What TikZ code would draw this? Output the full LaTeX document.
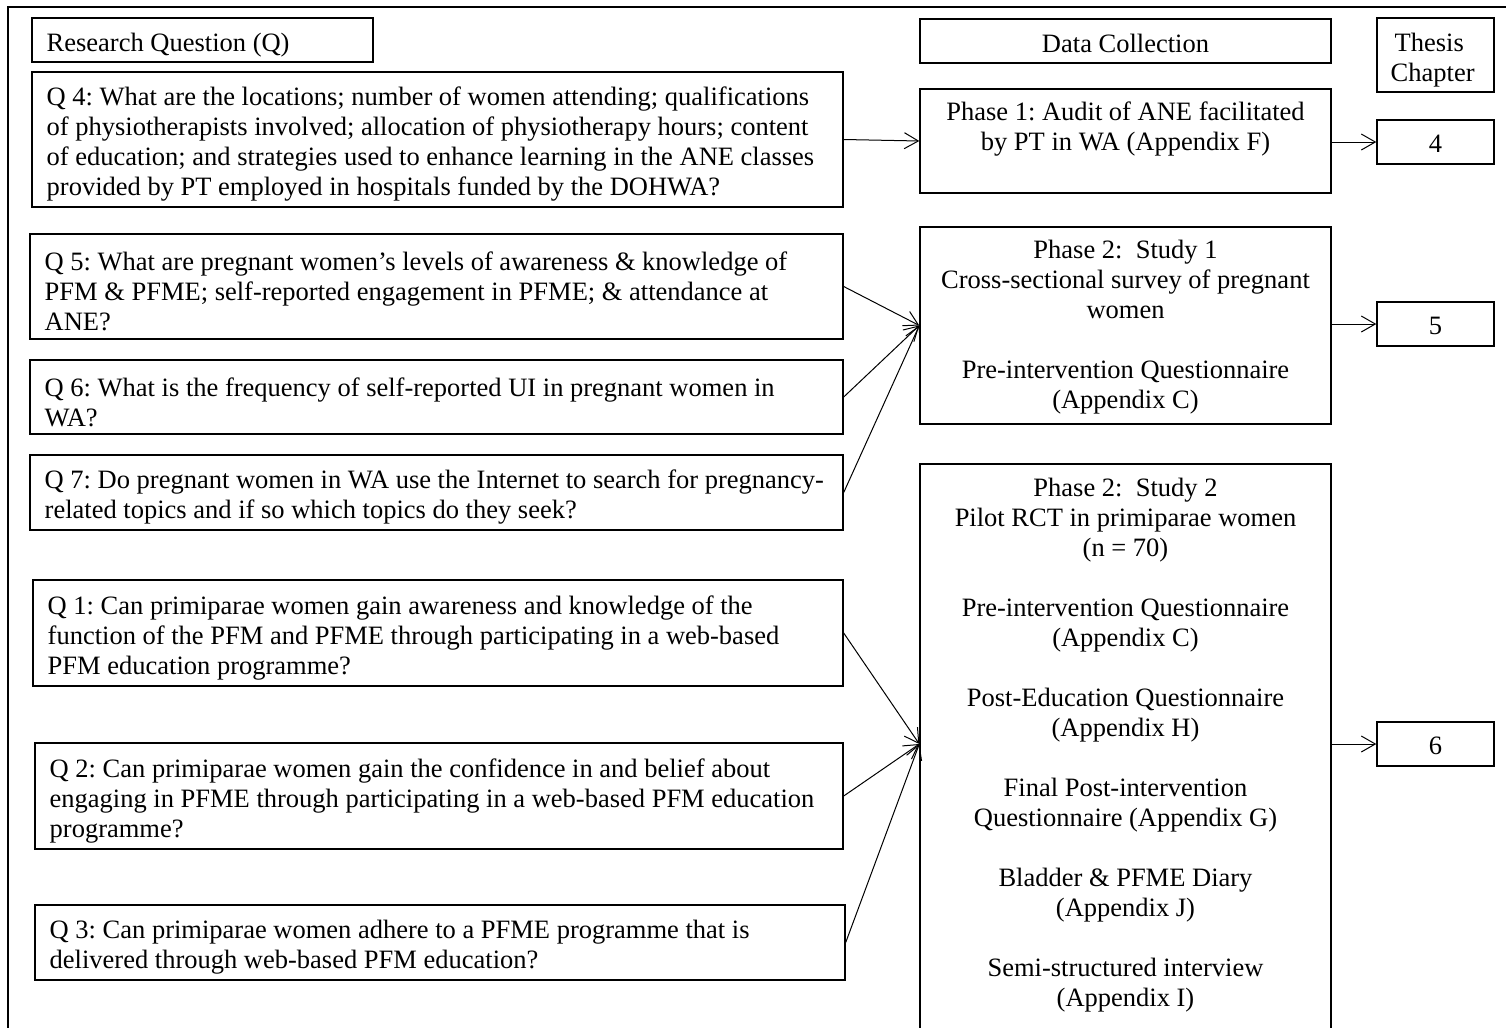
\documentclass[tikz,border=0pt]{standalone}
\usepackage{fontspec}
\setmainfont{Liberation Serif}
\usetikzlibrary{arrows.meta,fit}

\tikzset{
  box/.style={draw, line width=0.7pt, inner sep=0pt, rectangle},
  qtext/.style={anchor=west, align=left, inner sep=0pt, yshift=-2.5pt, font=\fontsize{13.25}{15}\selectfont},
  ctext/.style={align=center, inner sep=0pt, yshift=-1pt, font=\fontsize{13.25}{15}\selectfont},
  link/.style={line width=0.5pt, -{Straight Barb[length=7pt,width=8pt,line width=0.5pt]}}
}

\begin{document}
\frenchspacing
\begin{tikzpicture}[x=0.5pt, y=-0.5pt]
\useasboundingbox (0,0) rectangle (1506,1028);
\clip (0,0) rectangle (1506,1028);

% outer frame (only its top and left edges fall on the page)
\draw[line width=0.7pt] (8,1040) -- (8,7) -- (1520,7);

% column headings
\node[box, fit={(32,18) (373,62)}] (rq) {};
\node[qtext] (rqt) at ([xshift=7.5pt]rq.west) {Research Question (Q)};
\node[box, fit={(920,19) (1331,63)}] (dc) {};
\node[ctext] (dct) at (dc.center) {Data Collection};
\node[box, fit={(1377,18) (1494,92)}] (tc) {};
\node[qtext] (tct) at ([xshift=7pt]tc.west) {\hspace*{2pt}Thesis\\Chapter};

% research questions
\node[box, fit={(32,72) (843,207)}] (q4) {};
\node[qtext] (q4t) at ([xshift=7.5pt]q4.west) {Q 4: What are the locations; number of women attending; qualifications\\of physiotherapists involved; allocation of physiotherapy hours; content\\of education; and strategies used to enhance learning in the ANE classes\\provided by PT employed in hospitals funded by the DOHWA?};

\node[box, fit={(30,234) (843,339)}] (q5) {};
\node[qtext] (q5t) at ([xshift=7.5pt]q5.west) {Q 5: What are pregnant women’s levels of awareness \& knowledge of\\PFM \& PFME; self-reported engagement in PFME; \& attendance at\\ANE?};

\node[box, fit={(30,360) (843,434)}] (q6) {};
\node[qtext] (q6t) at ([xshift=7.5pt]q6.west) {Q 6: What is the frequency of self-reported UI in pregnant women in\\WA?};

\node[box, fit={(30,455) (843,530)}] (q7) {};
\node[qtext] (q7t) at ([xshift=7.5pt]q7.west) {Q 7: Do pregnant women in WA use the Internet to search for pregnancy-\\related topics and if so which topics do they seek?};

\node[box, fit={(33,580) (843,686)}] (q1) {};
\node[qtext] (q1t) at ([xshift=7.5pt]q1.west) {Q 1: Can primiparae women gain awareness and knowledge of the\\function of the PFM and PFME through participating in a web-based\\PFM education programme?};

\node[box, fit={(35,743) (843,849)}] (q2) {};
\node[qtext] (q2t) at ([xshift=7.5pt]q2.west) {Q 2: Can primiparae women gain the confidence in and belief about\\engaging in PFME through participating in a web-based PFM education\\programme?};

\node[box, fit={(35,905) (845,980)}] (q3) {};
\node[qtext] (q3t) at ([xshift=7.5pt]q3.west) {Q 3: Can primiparae women adhere to a PFME programme that is\\delivered through web-based PFM education?};

% data collection phases
\node[box, fit={(920,89) (1331,193)}] (p1) {};
\node[ctext] (p1t) at (1125.5,127.5) {Phase 1: Audit of ANE facilitated\\by PT in WA (Appendix F)};

\node[box, fit={(920,227) (1331,424)}] (s1) {};
\node[ctext] (s1t) at (s1.center) {Phase 2:\ \ Study 1\\Cross-sectional survey of pregnant\\women\\[15pt]Pre-intervention Questionnaire\\(Appendix C)};

\node[box, fit={(920,464) (1331,1040)}] (s2) {};
\node[ctext] (s2t) at (1125.5,743) {Phase 2:\ \ Study 2\\Pilot RCT in primiparae women\\(n = 70)\\[15pt]Pre-intervention Questionnaire\\(Appendix C)\\[15pt]Post-Education Questionnaire\\(Appendix H)\\[15pt]Final Post-intervention\\Questionnaire (Appendix G)\\[15pt]Bladder \& PFME Diary\\(Appendix J)\\[15pt]Semi-structured interview\\(Appendix I)};

% thesis chapters
\node[box, fit={(1377,120) (1494,164)}] (c4) {};
\node[ctext] (c4t) at (c4.center) {4};
\node[box, fit={(1377,302) (1494,346)}] (c5) {};
\node[ctext] (c5t) at (c5.center) {5};
\node[box, fit={(1377,722) (1494,766)}] (c6) {};
\node[ctext] (c6t) at (c6.center) {6};

% connectors
\draw[link] (q4.east) -- (p1.west);
\draw[link] (p1.east |- c4.west) -- (c4.west);

\draw[link] (q5.east) -- (s1.west);
\draw[link] (q6.east) -- (s1.west);
\draw[link] (q7.east) -- (s1.west);
\draw[link] (s1.east |- c5.west) -- (c5.west);

\draw[link] (q1.east) -- (s2.west |- c6.west);
\draw[link] (q2.east) -- (s2.west |- c6.west);
\draw[link] (q3.east) -- (s2.west |- c6.west);
\draw[link] (s2.east |- c6.west) -- (c6.west);
\end{tikzpicture}
\end{document}
